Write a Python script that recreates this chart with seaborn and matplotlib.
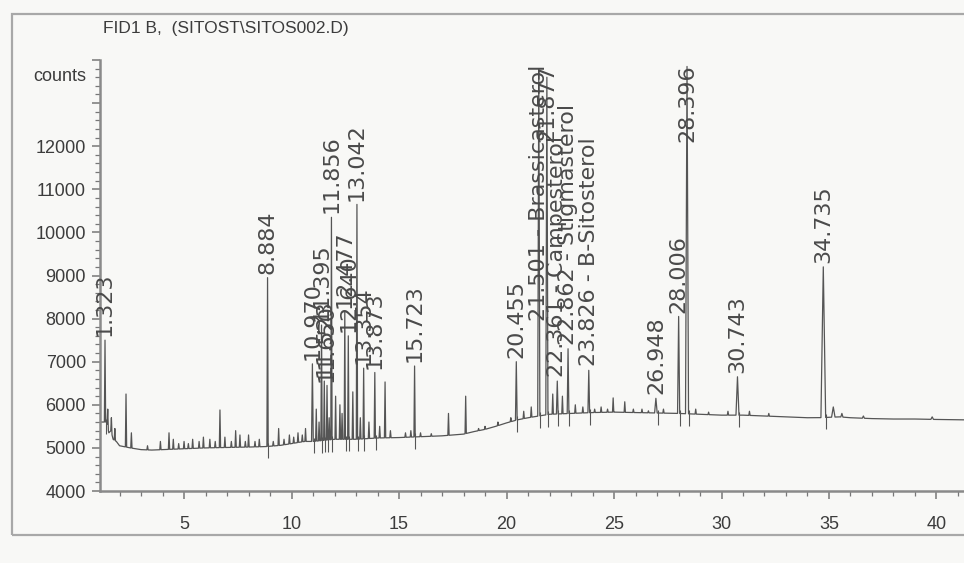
import numpy as np
import pandas as pd
import matplotlib
matplotlib.use("Agg")
import matplotlib.pyplot as plt
import seaborn as sns
from matplotlib import font_manager
from matplotlib.ticker import MultipleLocator, FixedLocator, FuncFormatter
from matplotlib.patches import Rectangle

# ---- detector baseline readings (time in min, signal in counts) ----
base_time = [1.09, 1.40, 1.50, 1.60, 1.70, 1.85, 2.0, 2.5, 3.0, 3.5, 4.0, 5.0, 6.0,
             7.0, 8.0, 8.8, 9.5, 10.0, 10.6, 11.0, 12.0, 13.0, 14.0, 15.0, 16.0,
             17.0, 18.0, 18.5, 19.0, 19.5, 20.0, 20.5, 21.0, 22.0, 23.0, 24.0,
             25.0, 26.0, 27.0, 28.0, 29.0, 30.0, 31.0, 32.0, 33.0, 34.0, 34.5,
             35.5, 36.0, 37.0, 38.0, 39.0, 40.0, 41.4]
base_counts = [5600, 5600, 5350, 5400, 5200, 5150, 5050, 5000, 4960, 4950, 4960,
               4980, 5000, 5010, 5020, 5030, 5060, 5100, 5150, 5150, 5200, 5200,
               5230, 5240, 5260, 5280, 5320, 5380, 5430, 5500, 5580, 5650, 5700,
               5780, 5800, 5820, 5830, 5820, 5810, 5800, 5780, 5760, 5760, 5740,
               5720, 5700, 5700, 5720, 5700, 5680, 5670, 5670, 5660, 5650]

# ---- integrated (labelled) peaks ----
peak_time = [1.323, 8.884, 10.970, 11.395, 11.523, 11.650, 11.856, 12.477, 12.640,
             13.042, 13.354, 13.873, 15.723, 20.455, 21.501, 21.877, 22.361,
             22.862, 23.826, 26.948, 28.006, 28.396, 30.743, 34.735]
peak_counts = [7500, 8950, 6950, 7850, 6550, 6450, 10350, 8150, 7600,
               10650, 6850, 6750, 6900, 7000, 13800, 13600, 6550,
               7300, 6800, 6150, 8050, 13850, 6650, 9200]
peak_halfwidth = [0.03, 0.03, 0.04, 0.03, 0.03, 0.03, 0.03, 0.03, 0.03,
                  0.03, 0.03, 0.03, 0.03, 0.04, 0.05, 0.05, 0.04,
                  0.04, 0.04, 0.06, 0.05, 0.07, 0.07, 0.11]
peak_label = ["1.323", "8.884", "10.970", "11.395", "11.523", "11.650", "11.856",
              "12.477", "12.640", "13.042", "13.354", "13.873", "15.723", "20.455",
              "21.501 - Brassicasterol", "21.877", "22.361 - Campesterol",
              "22.862 - Stigmasterol", "23.826 - B-Sitosterol", "26.948", "28.006",
              "28.396", "30.743", "34.735"]

# ---- small unlabelled peaks and baseline noise ----
minor_time = [1.45, 1.62, 1.78, 2.30, 2.55, 3.30, 3.90, 4.30, 4.50, 4.75, 5.00,
              5.20, 5.40, 5.70, 5.90, 6.20, 6.45, 6.67, 6.90, 7.20, 7.40, 7.60,
              7.85, 8.00, 8.30, 8.50, 9.15, 9.40, 9.65, 9.90, 10.10, 10.30,
              10.50, 10.65, 11.15, 11.28, 11.75, 12.05, 12.25, 12.35, 12.85,
              13.20, 13.60, 14.10, 14.35, 14.60, 15.30, 15.55, 16.00, 16.50,
              17.30, 18.10, 18.70, 19.00, 19.60, 20.20, 20.80, 21.15, 22.15,
              22.60, 23.20, 23.55, 24.10, 24.40, 24.70, 24.96, 25.50, 25.90,
              26.30, 26.60, 27.30, 28.80, 29.40, 30.30, 31.30, 32.20, 35.20,
              35.60, 36.60, 39.80]
minor_counts = [5900, 5700, 5450, 6250, 5350, 5050, 5150, 5350, 5200, 5100, 5150,
                5100, 5200, 5150, 5250, 5200, 5150, 5880, 5250, 5150, 5400, 5300,
                5150, 5300, 5150, 5200, 5150, 5450, 5200, 5300, 5250, 5350,
                5300, 5450, 5900, 5600, 5700, 6200, 6000, 5800, 6300,
                5700, 5600, 5500, 6530, 5400, 5350, 5400, 5350, 5330,
                5800, 6200, 5450, 5500, 5600, 5700, 5850, 5950, 6250,
                6200, 6000, 5950, 5900, 5950, 5900, 6160, 6070, 5900,
                5900, 5860, 5900, 5900, 5830, 5850, 5850, 5800, 5950,
                5800, 5740, 5720]
minor_halfwidth = [0.03] * 76 + [0.08, 0.05, 0.05, 0.06]

line_color = "#555555"
text_color = "#3c3c3c"
paper = "#f8f8f6"

sns.set_style("ticks")
available = {f.name for f in font_manager.fontManager.ttflist}
narrow = "Liberation Sans Narrow" if "Liberation Sans Narrow" in available else "Liberation Sans"
plt.rcParams["font.family"] = [narrow, "DejaVu Sans"]

# ---- assemble the trace: baseline with triangular peaks ----
all_t = np.array(peak_time + minor_time)
all_h = np.array(peak_counts + minor_counts)
all_w = np.array(peak_halfwidth + minor_halfwidth)


def base_at(t):
    return np.interp(t, base_time, base_counts)


verts = []
for t, c in zip(base_time, base_counts):
    if not np.any(np.abs(all_t - t) <= all_w):
        verts.append((t, c))
for t, h, w in zip(all_t, all_h, all_w):
    verts.append((t - w, base_at(t - w)))
    verts.append((t, h))
    verts.append((t + w, base_at(t + w)))
verts.sort(key=lambda v: v[0])
trace = pd.DataFrame(verts, columns=["time", "counts"])

fig = plt.figure(figsize=(9.64, 5.63), dpi=100, facecolor=paper)
ax = fig.add_axes([100 / 964, 1 - 491 / 563, 1 - 100 / 964, (491 - 60) / 563])
ax.set_facecolor(paper)

sns.lineplot(data=trace, x="time", y="counts", ax=ax, estimator=None, sort=False,
             color=line_color, linewidth=0.9)

# integration start/stop markers
ends = np.array(peak_time) + np.array(peak_halfwidth) * 1.3
ax.vlines(ends, base_at(ends) - 280, base_at(ends) + 80, color=line_color, linewidth=0.8)

ax.set_xlim(1.09, 41.28)
ax.set_ylim(4000, 14000)
ax.set_xlabel("")
ax.set_ylabel("")

for side in ("top", "right"):
    ax.spines[side].set_visible(False)
for side in ("left", "bottom"):
    ax.spines[side].set_color("#8a8a8a")
    ax.spines[side].set_linewidth(1.8)

ax.xaxis.set_major_locator(FixedLocator([5, 10, 15, 20, 25, 30, 35, 40]))
ax.xaxis.set_minor_locator(MultipleLocator(1))
ax.yaxis.set_major_locator(MultipleLocator(1000))
ax.yaxis.set_minor_locator(MultipleLocator(200))
ax.yaxis.set_major_formatter(FuncFormatter(lambda v, p: f"{int(v)}" if v <= 12000 else ""))
ax.tick_params(axis="both", which="major", direction="out", length=6, width=1.1,
               color="#777777", labelcolor=text_color, labelsize=13)
ax.tick_params(axis="both", which="minor", direction="out", length=3.5, width=0.9,
               color="#777777")
ax.tick_params(axis="y", which="major", pad=4)
ax.tick_params(axis="x", which="major", pad=12)

# peak labels, rotated above each apex
labels = []
for t, h, lab in zip(peak_time, peak_counts, peak_label):
    txt = ax.text(t, h + 90, lab, rotation=90, ha="center", va="bottom",
                  fontsize=16, color="#4a4a4a", family=["DejaVu Sans"])
    labels.append(txt)

fig.canvas.draw()
renderer = fig.canvas.get_renderer()
ax_top = ax.get_window_extent(renderer).y1
for txt in labels:
    if txt.get_window_extent(renderer).y1 > ax_top:
        txt.set_y(13900)
        txt.set_va("top")

fig.text(103 / 964, 1 - 28 / 563, "FID1 B,  (SITOST\\SITOS002.D)", ha="left",
         va="center", fontsize=12.5, color=text_color)
fig.text(86 / 964, 1 - 77 / 563, "counts", ha="right", va="center",
         fontsize=13, color=text_color)

fig.patches.append(Rectangle((12 / 964, 1 - 535 / 563), 2.0, (535 - 14) / 563,
                             transform=fig.transFigure, fill=False,
                             edgecolor="#a8a8a8", linewidth=1.6))

fig.savefig("out.png", dpi=100, facecolor=paper)
